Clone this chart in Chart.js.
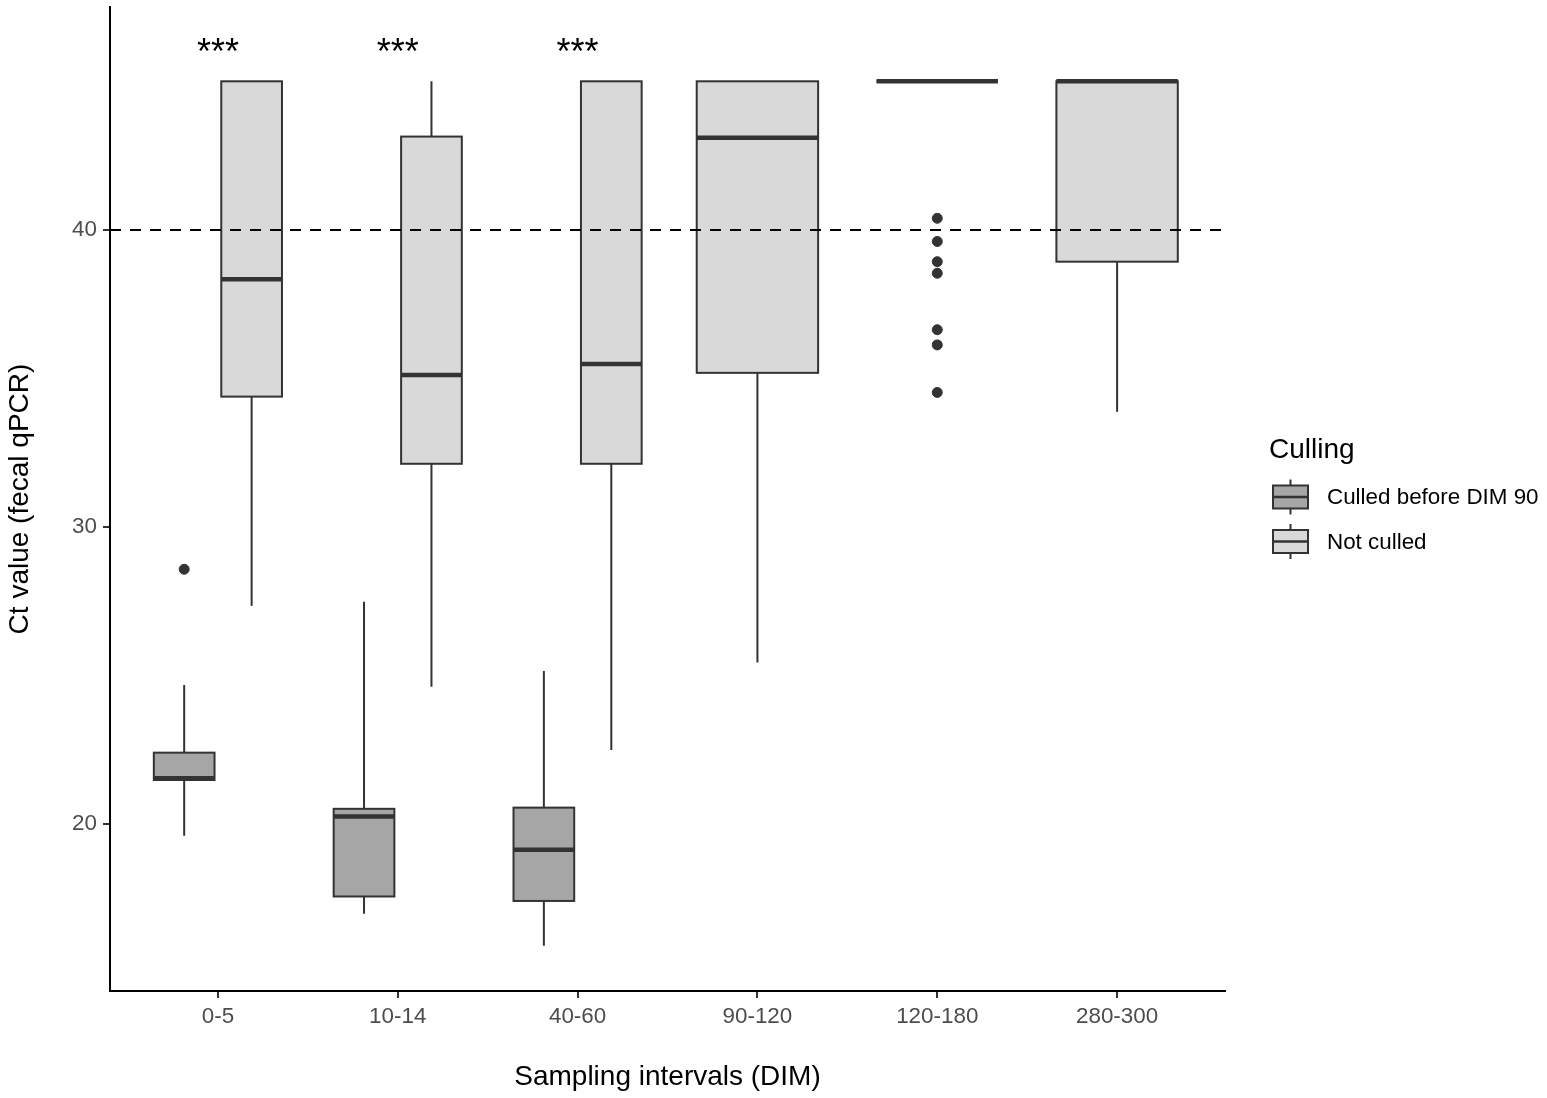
<!DOCTYPE html>
<html>
<head>
<meta charset="utf-8">
<title>Ct value by sampling interval</title>
<script src="https://cdn.jsdelivr.net/npm/chart.js@4/dist/chart.umd.min.js"></script>
<style>
    html, body { margin: 0; padding: 0; background: #ffffff; }
    #wrap { width: 1547px; height: 1098px; }
</style>
</head>
<body>
<div id="wrap"><canvas id="boxChart" width="1547" height="1098"></canvas></div>
<script>
// 采样区间
const categories = ['0-5', '10-14', '40-60', '90-120', '120-180', '280-300'];

// Culled before DIM 90（只有前三个区间）
const culledMin    = [19.61, 16.99, 15.91, null, null, null];
const culledQ1     = [21.49, 17.57, 17.42, null, null, null];
const culledMedian = [21.55, 20.26, 19.14, null, null, null];
const culledQ3     = [22.41, 20.52, 20.56, null, null, null];
const culledMax    = [24.69, 27.49, 25.16, null, null, null];
const culledOutliers = [[28.58], [], [], [], [], []];

// Not culled
const notCulledMin    = [27.35, 24.63, 22.50, 25.44, 45.00, 33.88];
const notCulledQ1     = [34.39, 32.13, 32.13, 35.19, 45.00, 38.93];
const notCulledMedian = [38.34, 35.12, 35.49, 43.10, 45.00, 45.00];
const notCulledQ3     = [45.00, 43.14, 45.00, 45.00, 45.00, 45.00];
const notCulledMax    = [45.00, 45.00, 45.00, 45.00, 45.00, 45.00];
const notCulledOutliers = [[], [], [], [], [40.39, 39.61, 38.93, 38.54, 36.64, 36.13, 34.53], []];

// 显著性标记
const sigLabels = ['***', '***', '***', '', '', ''];
const sigY = 45.58;

// 阈值线
const cutoff = 40;

// y轴刻度
const yTicks = [20, 30, 40];

const FONT = '"Liberation Sans", Arial, sans-serif';
const groups = [
    { label: 'Culled before DIM 90', fill: '#A6A6A6', min: culledMin, q1: culledQ1, med: culledMedian, q3: culledQ3, max: culledMax, out: culledOutliers },
    { label: 'Not culled', fill: '#D9D9D9', min: notCulledMin, q1: notCulledQ1, med: notCulledMedian, q3: notCulledQ3, max: notCulledMax, out: notCulledOutliers }
];

// ggplot position_dodge2 (width 0.75, padding 0.1)
function boxCenter(g, i) {
    const both = groups.every(gr => gr.med[i] !== null);
    if (!both) return { x: i + 1, w: 0.75 * 0.9 };
    return { x: i + 1 + (g === 0 ? -0.1875 : 0.1875), w: 0.375 * 0.9 };
}

function outlierPoints(g) {
    const pts = [];
    groups[g].out.forEach((list, i) => {
        list.forEach(v => pts.push({ x: boxCenter(g, i).x, y: v }));
    });
    return pts;
}

// 绘制箱线图
const boxPlugin = {
    id: 'boxes',
    beforeDatasetsDraw(chart) {
        const ctx = chart.ctx;
        const xs = chart.scales.x, ys = chart.scales.y;
        ctx.save();
        groups.forEach((gr, g) => {
            categories.forEach((c, i) => {
                if (gr.med[i] === null) return;
                const b = boxCenter(g, i);
                const cx = xs.getPixelForValue(b.x);
                const x0 = xs.getPixelForValue(b.x - b.w / 2);
                const x1 = xs.getPixelForValue(b.x + b.w / 2);
                const yMin = ys.getPixelForValue(gr.min[i]);
                const yQ1 = ys.getPixelForValue(gr.q1[i]);
                const yMed = ys.getPixelForValue(gr.med[i]);
                const yQ3 = ys.getPixelForValue(gr.q3[i]);
                const yMax = ys.getPixelForValue(gr.max[i]);
                ctx.strokeStyle = '#333333';
                ctx.lineWidth = 2;
                // 须线
                ctx.beginPath();
                ctx.moveTo(cx, yQ3); ctx.lineTo(cx, yMax);
                ctx.moveTo(cx, yQ1); ctx.lineTo(cx, yMin);
                ctx.stroke();
                // 箱体
                ctx.fillStyle = gr.fill;
                ctx.fillRect(x0, yQ3, x1 - x0, yQ1 - yQ3);
                ctx.strokeRect(x0, yQ3, x1 - x0, yQ1 - yQ3);
                // 中位数
                ctx.lineWidth = 4.5;
                ctx.beginPath();
                ctx.moveTo(x0, yMed); ctx.lineTo(x1, yMed);
                ctx.stroke();
            });
        });
        ctx.restore();
    },
    afterDatasetsDraw(chart) {
        const ctx = chart.ctx;
        const xs = chart.scales.x, ys = chart.scales.y;
        const area = chart.chartArea;
        ctx.save();
        // 虚线 Ct = 40
        const yc = ys.getPixelForValue(cutoff);
        ctx.strokeStyle = '#000000';
        ctx.lineWidth = 2;
        ctx.setLineDash([11, 9]);
        ctx.beginPath();
        ctx.moveTo(area.left, yc); ctx.lineTo(area.right, yc);
        ctx.stroke();
        ctx.setLineDash([]);
        // 星号
        ctx.fillStyle = '#000000';
        ctx.font = '36px ' + FONT;
        ctx.textAlign = 'center';
        ctx.textBaseline = 'alphabetic';
        sigLabels.forEach((s, i) => {
            if (s) ctx.fillText(s, xs.getPixelForValue(i + 1), ys.getPixelForValue(sigY));
        });
        ctx.restore();
    },
    afterDraw(chart) {
        // 图例
        const ctx = chart.ctx;
        const left = chart.chartArea.right + 44;
        ctx.save();
        ctx.fillStyle = '#000000';
        ctx.font = '28px ' + FONT;
        ctx.textAlign = 'left';
        ctx.textBaseline = 'alphabetic';
        ctx.fillText('Culling', left, 458);
        groups.forEach((gr, g) => {
            const cy = 497 + g * 44.5;
            const kx0 = left + 4, kx1 = left + 39, kc = (kx0 + kx1) / 2;
            ctx.strokeStyle = '#333333';
            ctx.lineWidth = 2;
            ctx.beginPath();
            ctx.moveTo(kc, cy - 17.5); ctx.lineTo(kc, cy + 17.5);
            ctx.stroke();
            ctx.fillStyle = gr.fill;
            ctx.fillRect(kx0, cy - 11.5, kx1 - kx0, 23);
            ctx.strokeRect(kx0, cy - 11.5, kx1 - kx0, 23);
            ctx.lineWidth = 2.5;
            ctx.beginPath();
            ctx.moveTo(kx0, cy); ctx.lineTo(kx1, cy);
            ctx.stroke();
            ctx.fillStyle = '#000000';
            ctx.font = '22.4px ' + FONT;
            ctx.textBaseline = 'middle';
            ctx.fillText(gr.label, left + 58, cy + 1);
            ctx.textBaseline = 'alphabetic';
        });
        ctx.restore();
    }
};

const ctx = document.getElementById('boxChart').getContext('2d');
new Chart(ctx, {
    type: 'scatter',
    data: {
        datasets: groups.map((gr, g) => ({
            label: gr.label,
            data: outlierPoints(g),
            backgroundColor: '#333333',
            borderColor: '#333333',
            pointRadius: 5,
            pointHoverRadius: 5
        }))
    },
    options: {
        responsive: false,
        animation: false,
        devicePixelRatio: 1,
        layout: { padding: { top: 7, right: 322, left: 0, bottom: 0 } },
        plugins: {
            legend: { display: false },
            tooltip: { enabled: false }
        },
        scales: {
            x: {
                type: 'linear',
                min: 0.4,
                max: 6.6,
                afterBuildTicks: scale => { scale.ticks = categories.map((c, i) => ({ value: i + 1 })); },
                afterFit: scale => {
                    scale.height = 107;
                    scale.paddingLeft = 0;
                    scale.paddingRight = 0;
                },
                ticks: {
                    autoSkip: false,
                    maxRotation: 0,
                    color: '#4D4D4D',
                    font: { family: FONT, size: 22.4 },
                    padding: 5,
                    callback: v => categories[v - 1]
                },
                grid: { drawOnChartArea: false, drawTicks: true, tickLength: 7, tickColor: '#333333', lineWidth: 2 },
                border: { display: true, color: '#000000', width: 2 },
                title: {
                    display: true,
                    text: 'Sampling intervals (DIM)',
                    color: '#000000',
                    font: { family: FONT, size: 28 },
                    padding: { top: 0, bottom: 4 }
                }
            },
            y: {
                min: 14.39,
                max: 47.5,
                afterBuildTicks: scale => { scale.ticks = yTicks.map(v => ({ value: v })); },
                afterFit: scale => {
                    scale.width = 110;
                    scale.paddingTop = 0;
                    scale.paddingBottom = 0;
                },
                ticks: {
                    color: '#4D4D4D',
                    font: { family: FONT, size: 22.4 },
                    padding: 6
                },
                grid: { drawOnChartArea: false, drawTicks: true, tickLength: 7, tickColor: '#333333', lineWidth: 2 },
                border: { display: true, color: '#000000', width: 2 },
                title: {
                    display: true,
                    text: 'Ct value (fecal qPCR)',
                    color: '#000000',
                    font: { family: FONT, size: 28 },
                    padding: { top: 3, bottom: 0 }
                }
            }
        }
    },
    plugins: [boxPlugin]
});
</script>
</body>
</html>
